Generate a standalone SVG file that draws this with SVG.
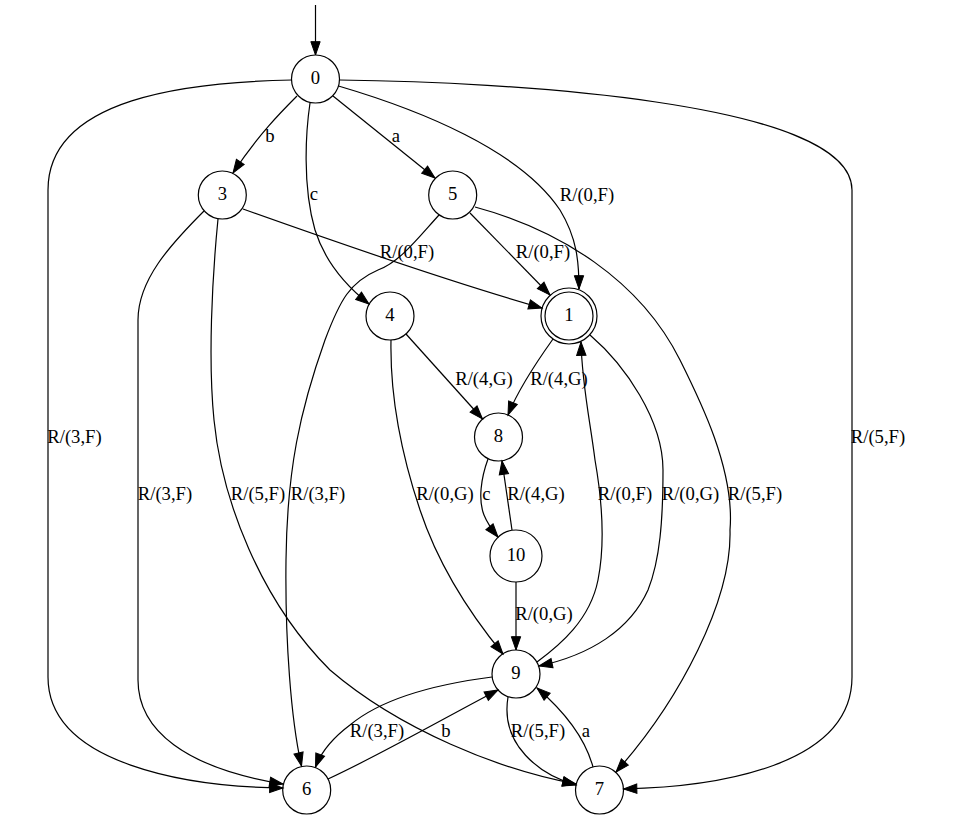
<svg xmlns="http://www.w3.org/2000/svg" width="953" height="819" viewBox="0 0 953 819">
<style>
.node circle{fill:none;stroke:#000;stroke-width:1.2}
text{font-family:"Liberation Serif","Times New Roman",serif;font-size:18.67px;fill:#000;text-anchor:middle}
.edges path{fill:none;stroke:#000;stroke-width:1.2;marker-end:url(#arr)}
</style>
<defs>
<marker id="arr" markerUnits="userSpaceOnUse" markerWidth="16" markerHeight="12" refX="13.33" refY="5" orient="auto" viewBox="-1 -1 16 12">
<path d="M0,0.33 L13.33,5 L0,9.67 z" fill="#000" stroke="#000" stroke-width="1"/>
</marker>
</defs>
<rect width="953" height="819" fill="#fff"/>
<g class="edges" id="edges">
<path id="e_start_0" d="M315.5,5 L315.5,55"/>
<path id="e_0_3" d="M297,96 C282,111 258,135 233,173"/>
<path id="e_0_5" d="M333,96 L435,178"/>
<path id="e_0_4" d="M310,103 C306,130 302,185 315,230 C325,262 345,285 369,304"/>
<path id="e_0_1" d="M338.5,86 C420,110 520,150 560,210 C577,238 579,262 579,289"/>
<path id="e_0_6" d="M292,80 C190,82 48,97 48,190 L48,677 C48,765 190,787 283,788"/>
<path id="e_0_7" d="M339.5,80 C500,82 852,100 852,190 L852,677 C852,765 720,787 623.5,789"/>
<path id="e_3_1" d="M243,209 C330,240 450,282 542,308"/>
<path id="e_3_6" d="M204,211 C170,245 138,280 138,320 L138,680 C138,730 185,768 283,784"/>
<path id="e_3_7" d="M218,219 C212,280 208,360 214,420 C222,500 260,600 330,670 C400,730 500,770 576,784"/>
<path id="e_5_1" d="M470,213 L550,295"/>
<path id="e_5_6" d="M439,215 C418,238 400,262 378,270 C350,282 340,300 325,340 C300,410 287,470 286,560 C285,640 291,720 301.5,766"/>
<path id="e_5_7" d="M475,207 C560,230 640,280 680,360 C700,400 735,470 730,530 C732,600 680,700 616,772"/>
<path id="e_4_8" d="M406,334 L482.5,419"/>
<path id="e_4_9" d="M391,340 C390,390 400,450 420,510 C440,570 475,620 503,654"/>
<path id="e_1_8" d="M553,339 C538,360 518,390 508,415"/>
<path id="e_1_9" d="M590,335 C625,365 663,420 663,470 C663,520 660,560 648,590 C630,630 590,655 539,666"/>
<path id="e_8_10" d="M488,459 C481,478 478,500 484,515 C488,525 493,531 498,537"/>
<path id="e_10_8" d="M512,530 L502,461"/>
<path id="e_10_9" d="M516,582 L516,650"/>
<path id="e_9_1" d="M537,662 C560,645 590,620 598,580 C605,545 602,500 595,460 C590,420 582,385 581,342"/>
<path id="e_9_6" d="M492,677 C430,685 380,700 350,725 C330,740 320,755 315.5,767"/>
<path id="e_9_7" d="M508,697 C500,745 540,775 576,785"/>
<path id="e_6_9" d="M328,779 C380,755 450,715 498,690"/>
<path id="e_7_9" d="M593,767 C587,745 572,718 537,688"/>
</g>
<g id="edge-labels">
<text x="270" y="142">b</text>
<text x="396" y="142">a</text>
<text x="314" y="200">c</text>
<text x="587" y="201">R/(0,F)</text>
<text x="74.5" y="443">R/(3,F)</text>
<text x="878" y="443">R/(5,F)</text>
<text x="407" y="258">R/(0,F)</text>
<text x="543" y="258">R/(0,F)</text>
<text x="165" y="500">R/(3,F)</text>
<text x="258" y="500">R/(5,F)</text>
<text x="318" y="500">R/(3,F)</text>
<text x="755" y="500">R/(5,F)</text>
<text x="484" y="385">R/(4,G)</text>
<text x="559" y="385">R/(4,G)</text>
<text x="445" y="500">R/(0,G)</text>
<text x="690.5" y="500">R/(0,G)</text>
<text x="486.5" y="500">c</text>
<text x="536" y="500">R/(4,G)</text>
<text x="544" y="620">R/(0,G)</text>
<text x="625" y="500">R/(0,F)</text>
<text x="377" y="737">R/(3,F)</text>
<text x="538" y="737">R/(5,F)</text>
<text x="446" y="737">b</text>
<text x="586" y="737">a</text>
</g>
<g class="node" id="node0"><circle cx="315.5" cy="79" r="24"/><text x="315.5" y="84">0</text></g>
<g class="node" id="node3"><circle cx="222.3" cy="195" r="24"/><text x="222.3" y="200">3</text></g>
<g class="node" id="node5"><circle cx="452.7" cy="195" r="24"/><text x="452.7" y="200">5</text></g>
<g class="node" id="node4"><circle cx="390" cy="316" r="24"/><text x="390" y="321">4</text></g>
<g class="node" id="node1"><circle cx="569" cy="316" r="24"/><circle cx="569" cy="316" r="28"/><text x="569" y="321">1</text></g>
<g class="node" id="node8"><circle cx="498.5" cy="437" r="24"/><text x="498.5" y="442">8</text></g>
<g class="node" id="node10"><circle cx="516" cy="556" r="26"/><text x="516" y="561">10</text></g>
<g class="node" id="node9"><circle cx="516" cy="674" r="24"/><text x="516" y="679">9</text></g>
<g class="node" id="node6"><circle cx="306.7" cy="790" r="24"/><text x="306.7" y="795">6</text></g>
<g class="node" id="node7"><circle cx="599.5" cy="790" r="24"/><text x="599.5" y="795">7</text></g>
</svg>
